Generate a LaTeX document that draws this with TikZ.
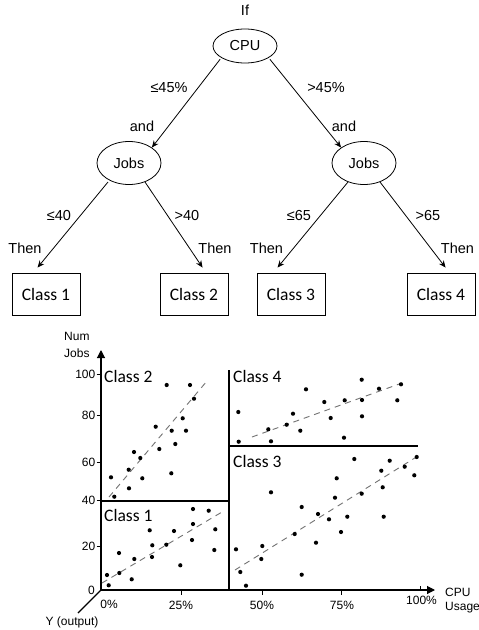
\documentclass[tikz,border=0pt]{standalone}
\usepackage{fontspec}
\setmainfont{Liberation Sans}
\newfontfamily\classfont{Carlito}
\usetikzlibrary{shapes.geometric,arrows.meta,calc}
\begin{document}
\begin{tikzpicture}[x=1pt,y=-1pt,
  treetxt/.style={font=\fontsize{14.5}{16}\selectfont, inner sep=0pt},
  axtxt/.style={font=\fontsize{12}{14}\selectfont, inner sep=0pt},
  ellnode/.style={draw, ellipse, line width=0.8pt, minimum width=64pt, inner sep=0pt, font=\fontsize{14.5}{16}\selectfont},
  classbox/.style={draw, rectangle, line width=0.9pt, minimum width=68pt, minimum height=42pt, inner sep=0pt, font=\classfont\fontsize{17.5}{20}\selectfont},
  plottxt/.style={font=\classfont\fontsize{17.5}{20}\selectfont, inner sep=0pt, anchor=west},
  arr/.style={-{Stealth[length=7pt,width=6pt]}, line width=0.8pt},
  axis/.style={line width=1.1pt, -{Triangle[length=8pt,width=8pt]}},
  divider/.style={line width=1.1pt},
  trend/.style={dash pattern=on 6pt off 5pt, line width=0.9pt, color=black!55},
  dot/.style={fill=black}
]
\useasboundingbox (0,0) rectangle (479,630);
\fill[white] (0,0) rectangle (479,630);

% ---------------- tree ----------------
\node[treetxt] (if) at (245,10.5) {If};
\node[ellnode, minimum height=34pt] (cpu) at (245,46) {CPU};
\node[ellnode, minimum height=43pt] (jobl) at (129,163) {Jobs};
\node[ellnode, minimum height=43pt] (jobr) at (364,163) {Jobs};

\node[classbox] (c1) at (46,294) {Class 1};
\node[classbox] (c2) at (194,294) {Class 2};
\node[classbox] (c3) at (291,294) {Class 3};
\node[classbox] (c4) at (441,294) {Class 4};

\coordinate (t1) at ($(c1.north west)+(26,-5)$);
\coordinate (t2) at ($(c2.north west)+(43,-5)$);
\coordinate (t3) at ($(c3.north west)+(21,-5)$);
\coordinate (t4) at ($(c4.north west)+(39,-5)$);

\draw[arr] ($(cpu.south west)+(-2,1)$) -- (jobl.north east);
\draw[arr] ($(cpu.south east)+(2,1)$) -- (jobr.north west);
\draw[arr] ($(jobl.center)+(-21,19)$) -- (t1);
\draw[arr] ($(jobl.center)+(16,19)$) -- (t2);
\draw[arr] ($(jobr.center)+(-16,19)$) -- (t3);
\draw[arr] ($(jobr.center)+(16,19)$) -- (t4);

\node[treetxt] (l1) at (169,88) {≤45\%};
\node[treetxt] (l2) at (326,88) {>45\%};
\node[treetxt] (a1) at (142,126) {and};
\node[treetxt] (a2) at (344,126) {and};
\node[treetxt] (l3) at (59,216) {≤40};
\node[treetxt] (l4) at (187,216) {>40};
\node[treetxt] (l5) at (299,216) {≤65};
\node[treetxt] (l6) at (428,216) {>65};
\node[treetxt] (th1) at (25,248) {Then};
\node[treetxt] (th2) at (215,248) {Then};
\node[treetxt] (th3) at (266.5,248) {Then};
\node[treetxt] (th4) at (457.5,248) {Then};

% ---------------- chart ----------------
\coordinate (O) at (101,590);
\coordinate (ytop) at (101,350);
\coordinate (xend) at (435,590);
\coordinate (zend) at (78,613);

\draw[axis] (O) -- (ytop);
\draw[axis] (O) -- (xend);
\draw[divider] (O) -- (zend);

% y ticks and labels
\foreach \v/\yy in {100/374,80/415.7,60/462.7,40/500.7,20/546.7}{
  \draw[line width=0.9pt] (96.5,\yy) -- (101,\yy);
  \node[axtxt, anchor=east] at (95.5,\yy) {\v};
}
\node[axtxt, anchor=east] (y0) at (95,590) {0};

% x ticks and labels
\foreach \xx in {181,262,341}{
  \draw[line width=0.9pt] (\xx,590) -- (\xx,594.5);
}
\draw[line width=0.9pt] (420,590) -- (420,585.5);
\node[axtxt] (x0) at (109,604) {0\%};
\node[axtxt] (x25) at (181,605) {25\%};
\node[axtxt] (x50) at (262,605) {50\%};
\node[axtxt] (x75) at (342,605) {75\%};
\node[axtxt] (x100) at (421.5,600) {100\%};

\node[axtxt, anchor=west] (num) at (64,336) {Num};
\node[axtxt, anchor=west] (jobs) at (64,353) {Jobs};
\node[axtxt, anchor=west] (cpuax) at (445,592.5) {CPU};
\node[axtxt, anchor=west] (usage) at (445,608) {Usage};
\node[axtxt] (yout) at (72,622) {Y (output)};

% region dividers
\draw[divider] (229,370) -- (229,590);
\draw[divider] (101,501) -- (229,501);
\draw[divider] (229,446) -- (418,446);

% class labels
\node[plottxt] (k2) at (104,376) {Class 2};
\node[plottxt] (k1) at (104,515) {Class 1};
\node[plottxt] (k4) at (233,376) {Class 4};
\node[plottxt] (k3) at (233,461.5) {Class 3};

% trend lines
\draw[trend] (109,497) -- (207,381);
\draw[trend] (102,583) -- (222,512);
\draw[trend] (252,437) -- (402,383);
\draw[trend] (235,570) -- (418,456);

% dots
\foreach \px/\py in {
  166.7/385,190/385,194/398.7,182.7/418.3,155.7/426.7,171.7/430.7,186/430.7,159.3/449,175.3/444,134/452,140.3/458,128.7/469.7,111/477.3,142.3/478.3,171.3/473.3,129/488.3,114.3/496.7,
  193/509,208.7/510.7,193/524,149.7/530.3,174/531,215.3/529.3,152.3/545.3,192/540,166.3/544.7,214.3/550,119/553,152/557,134.3/559,180.3/565.3,107/575,119.3/573,131.7/579.3,108.7/585.3,
  361.7/379.7,306/389.3,379/388.7,401/384.3,324.3/402,344.7/400.3,362/400,397.3/400.3,238.3/412,293/413.7,330.7/418,362/416.3,286.7/424.7,268.3/429.3,300.3/430.7,344/437.7,238.7/441.7,271/441.3,
  354.3/459,389.7/460.7,416.7/457,404.7/466.7,381.3/470.7,414.3/475.3,336.7/478.3,382.7/487.3,361.7/493.7,271/492.3,335/497.7,301.7/507,318/514,329/519.3,347.3/516.7,383.7/516.7,341/532,294.7/534,316/542.7,262.3/546,236/549.3,261.3/559,240.3/572,301.7/574.7,246/585.7}{
  \fill[dot] (\px,\py) circle[radius=2.1pt];
}
\end{tikzpicture}
\end{document}
